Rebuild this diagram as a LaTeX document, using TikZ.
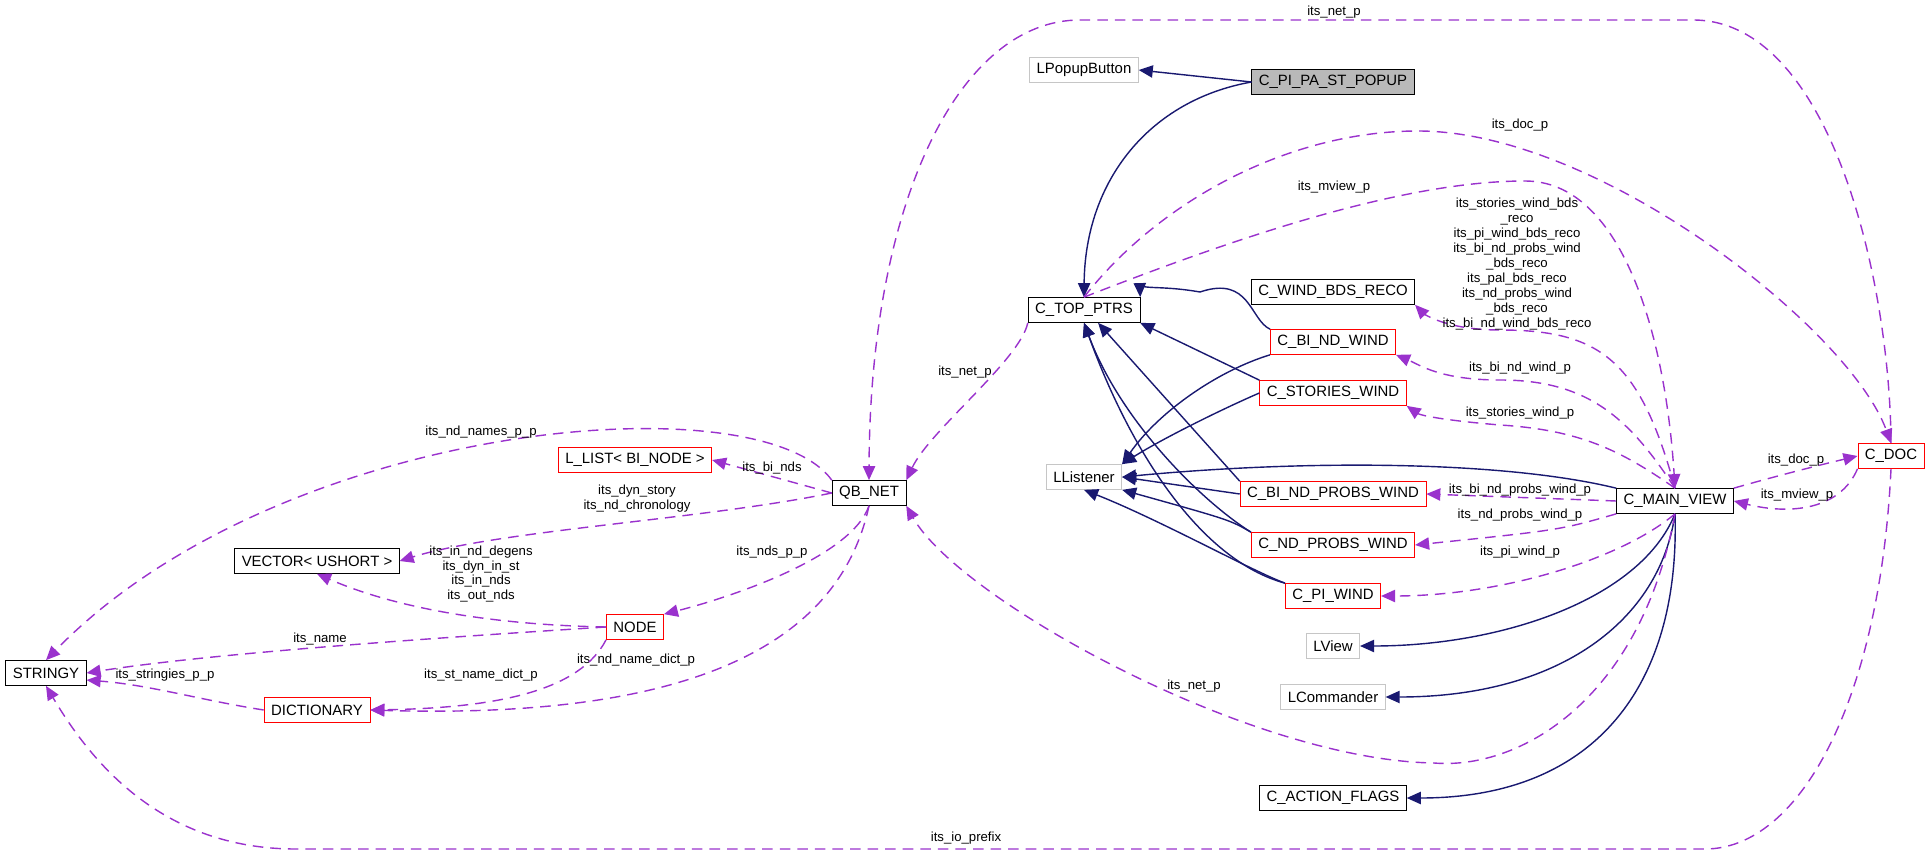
\documentclass[tikz,border=0pt]{standalone}
\usepackage{fontspec}
\setmainfont{Liberation Sans}
\usetikzlibrary{arrows.meta}
\definecolor{navy}{RGB}{25,25,112}
\definecolor{purp}{RGB}{154,50,205}
\tikzset{
  cls/.style={draw=black,rectangle,minimum height=0.5cm,inner xsep=4pt,inner ysep=0pt,font=\fontsize{8.5}{9}\selectfont},
  ext/.style={cls,draw=gray!45},
  red/.style={cls,draw=red},
  inh/.style={navy,thick,-{Triangle[length=8pt,width=7pt]}},
  use/.style={purp,thick,dash pattern=on 6pt off 4pt,-{Triangle[length=8pt,width=7pt]}},
  lbl/.style={font=\fontsize{7.5}{8.5}\selectfont,align=center,inner sep=0pt}
}
\begin{document}
\begin{tikzpicture}[x=0.02cm,y=-0.02cm]
\useasboundingbox (0,0) rectangle (1931,855);

\node[ext] (lpb) at (1084,70) {LPopupButton};
\node[cls,fill=gray!55] (pop) at (1333,82) {C\_PI\_PA\_ST\_POPUP};
\node[cls] (top) at (1084,310) {C\_TOP\_PTRS};
\node[cls] (wbr) at (1333,292) {C\_WIND\_BDS\_RECO};
\node[red] (bnw) at (1333,342) {C\_BI\_ND\_WIND};
\node[red] (stw) at (1333,393) {C\_STORIES\_WIND};
\node[ext] (lli) at (1084,477) {LListener};
\node[red] (bnpw) at (1333,494) {C\_BI\_ND\_PROBS\_WIND};
\node[red] (npw) at (1333,545) {C\_ND\_PROBS\_WIND};
\node[red] (piw) at (1333,596) {C\_PI\_WIND};
\node[ext] (lvi) at (1333,646) {LView};
\node[ext] (lco) at (1333,697) {LCommander};
\node[cls] (acf) at (1333,798) {C\_ACTION\_FLAGS};
\node[cls] (mv) at (1675,501) {C\_MAIN\_VIEW};
\node[red] (doc) at (1891,456) {C\_DOC};
\node[cls] (qb) at (869,493) {QB\_NET};
\node[red] (ll) at (635,460) {L\_LIST< BI\_NODE >};
\node[cls] (vec) at (317,561) {VECTOR< USHORT >};
\node[red] (nd) at (635,627) {NODE};
\node[cls] (str) at (46,673) {STRINGY};
\node[red] (dict) at (317,710) {DICTIONARY};

% inheritance
\draw[inh] (pop.west) -- (lpb.east);
\draw[inh] (pop.west) .. controls (1150,100) and (1085,180) .. (top.north);
\draw[inh] (bnw.north west) .. controls (1250,320) and (1250,275) .. (1200,292) .. controls (1160,285) and (1140,290) .. (top.north east);
\draw[inh] (stw.north west) -- (top.south east);
\draw[inh] (bnpw.north west) -- ([xshift=8pt]top.south);
\draw[inh] (npw.north west) .. controls (1200,500) and (1120,420) .. (top.south);
\draw[inh] (piw.north west) .. controls (1200,560) and (1130,450) .. (top.south);
\draw[inh] (bnw.south west) .. controls (1220,370) and (1160,410) .. (lli.north east);
\draw[inh] (stw.west) .. controls (1220,410) and (1160,440) .. (lli.north east);
\draw[inh] (bnpw.west) -- (lli.east);
\draw[inh] (npw.north west) .. controls (1230,520) .. (lli.south east);
\draw[inh] (piw.north west) .. controls (1250,570) and (1160,520) .. (lli.south);
\draw[inh] (mv.north west) .. controls (1500,460) and (1300,460) .. (lli.east);
\draw[inh] (mv.south) .. controls (1640,600) and (1500,646) .. (lvi.east);
\draw[inh] (mv.south) .. controls (1660,620) and (1560,697) .. (lco.east);
\draw[inh] (mv.south) .. controls (1680,680) and (1600,798) .. (acf.east);

% usage
\draw[use] (doc.north) .. controls (1890,280) and (1830,20) .. (1693,20) -- (1080,20) .. controls (960,20) and (870,200) .. (qb.north);
\node[lbl] at (1334,12) {its\_net\_p};
\draw[use] (top.north) .. controls (1160,200) and (1290,131) .. (1418,131) .. controls (1600,131) and (1850,330) .. (doc.north);
\node[lbl] at (1520,125) {its\_doc\_p};
\draw[use] (top.north) .. controls (1230,240) and (1400,181) .. (1525,181) .. controls (1620,181) and (1665,330) .. (mv.north);
\node[lbl] at (1334,187) {its\_mview\_p};
\draw[use] (mv.north) .. controls (1640,360) and (1600,330) .. (1500,330) .. controls (1440,330) and (1420,310) .. (wbr.south east);
\node[lbl] at (1517,264) {its\_stories\_wind\_bds\\\_reco\\its\_pi\_wind\_bds\_reco\\its\_bi\_nd\_probs\_wind\\\_bds\_reco\\its\_pal\_bds\_reco\\its\_nd\_probs\_wind\\\_bds\_reco\\its\_bi\_nd\_wind\_bds\_reco};
\draw[use] (mv.north) .. controls (1630,420) and (1590,380) .. (1500,380) .. controls (1440,380) and (1420,365) .. (bnw.south east);
\node[lbl] at (1520,368) {its\_bi\_nd\_wind\_p};
\draw[use] (mv.north) .. controls (1620,450) and (1580,430) .. (1500,425) .. controls (1440,420) and (1420,415) .. (stw.south east);
\node[lbl] at (1520,413) {its\_stories\_wind\_p};
\draw[use] (mv.west) -- (bnpw.east);
\node[lbl] at (1520,490) {its\_bi\_nd\_probs\_wind\_p};
\draw[use] (mv.south west) .. controls (1560,530) .. (npw.east);
\node[lbl] at (1520,515) {its\_nd\_probs\_wind\_p};
\draw[use] (mv.south) .. controls (1620,560) and (1500,596) .. (piw.east);
\node[lbl] at (1520,552) {its\_pi\_wind\_p};
\draw[use] (mv.north east) .. controls (1780,475) and (1820,465) .. (doc.west);
\node[lbl] at (1796,460) {its\_doc\_p};
\draw[use] (doc.south west) .. controls (1840,510) and (1790,515) .. (mv.east);
\node[lbl] at (1797,495) {its\_mview\_p};
\draw[use] (top.south west) .. controls (1020,360) and (930,430) .. (qb.north east);
\node[lbl] at (965,372) {its\_net\_p};
\draw[use] (mv.south) .. controls (1640,700) and (1520,770) .. (1434,763) .. controls (1250,760) and (960,600) .. (qb.south east);
\node[lbl] at (1194,686) {its\_net\_p};
\draw[use] (doc.south) .. controls (1880,700) and (1800,849) .. (1705,849) -- (296,849) .. controls (160,849) and (90,760) .. (str.south);
\node[lbl] at (966,838) {its\_io\_prefix};

\draw[use] (qb.north west) .. controls (760,380) and (280,420) .. (str.north);
\node[lbl] at (481,432) {its\_nd\_names\_p\_p};
\draw[use] (qb.west) -- (ll.east);
\node[lbl] at (772,468) {its\_bi\_nds};
\draw[use] (qb.west) .. controls (700,520) and (500,530) .. (vec.east);
\node[lbl] at (637,499) {its\_dyn\_story\\its\_nd\_chronology};
\draw[use] (qb.south) .. controls (850,560) and (720,600) .. (nd.north east);
\node[lbl] at (772,552) {its\_nds\_p\_p};
\draw[use] (qb.south) .. controls (840,640) and (700,720) .. (dict.east);
\node[lbl] at (636,660) {its\_nd\_name\_dict\_p};
\draw[use] (nd.west) .. controls (500,625) and (400,610) .. (vec.south);
\node[lbl] at (481,574) {its\_in\_nd\_degens\\its\_dyn\_in\_st\\its\_in\_nds\\its\_out\_nds};
\draw[use] (nd.west) .. controls (400,640) and (200,655) .. (str.east);
\node[lbl] at (320,639) {its\_name};
\draw[use] (nd.south west) .. controls (580,690) and (500,708) .. (dict.east);
\node[lbl] at (481,675) {its\_st\_name\_dict\_p};
\draw[use] (dict.west) .. controls (200,700) and (150,685) .. ([yshift=-4pt]str.east);
\node[lbl] at (165,675) {its\_stringies\_p\_p};
\end{tikzpicture}
\end{document}
